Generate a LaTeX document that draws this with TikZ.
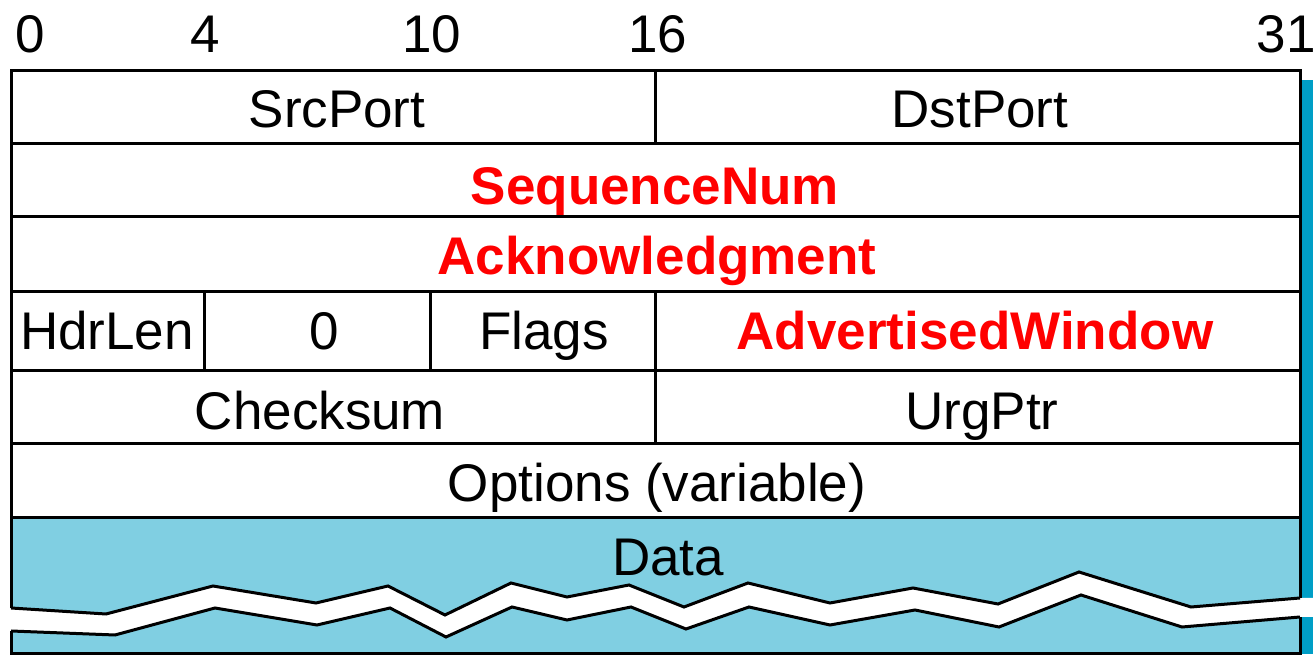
\documentclass[tikz,border=0pt]{standalone}
\usepackage{fontspec}
\setmainfont{Liberation Sans}
\definecolor{datablue}{HTML}{80CFE2}
\definecolor{barblue}{HTML}{009EC6}
\begin{document}
\begin{tikzpicture}[x=0.5pt,y=-0.5pt,
    field/.style={font=\fontsize{26.5}{30}\selectfont,anchor=base,inner sep=0pt},
    hot/.style={field,font=\fontsize{26.5}{30}\selectfont\bfseries,text=red},
    frame/.style={line width=1.5pt,line join=miter}]

    \useasboundingbox (0,0) rectangle (1313,656);

    % data area and side bar
    \fill[datablue] (11,518) rectangle (1300,654);
    \fill[barblue] (1302,80) rectangle (1313,654);

    % white break through the data
    \fill[white] (0,608) -- (11,608) -- (106,614) -- (213,586) -- (316,603) -- (388,586)
        -- (445,615) -- (511,583) -- (567,597) -- (629,585) -- (684,607) -- (748,583)
        -- (830,603) -- (913,588) -- (998,604) -- (1079,572) -- (1191,607) -- (1300,598)
        -- (1313,598) -- (1313,617) -- (1300,617) -- (1182,627) -- (1081,595) -- (999,627)
        -- (915,610) -- (830,625) -- (749,607) -- (686,629) -- (631,607) -- (567,620)
        -- (512,607) -- (446,637) -- (390,608) -- (317,625) -- (215,608) -- (115,635)
        -- (11,631) -- (0,631) -- cycle;
    \draw[frame] (11,608) -- (106,614) -- (213,586) -- (316,603) -- (388,586)
        -- (445,615) -- (511,583) -- (567,597) -- (629,585) -- (684,607) -- (748,583)
        -- (830,603) -- (913,588) -- (998,604) -- (1079,572) -- (1191,607) -- (1300,598);
    \draw[frame] (11,631) -- (115,635) -- (215,608) -- (317,625) -- (390,608)
        -- (446,637) -- (512,607) -- (567,620) -- (631,607) -- (686,629) -- (749,607)
        -- (830,625) -- (915,610) -- (999,627) -- (1081,595) -- (1182,627) -- (1300,617);

    % header frame
    \draw[frame] (11,608) -- (11,71) -- (1300,71) -- (1300,598);
    \draw[frame] (11,631) -- (11,654) -- (1300,654) -- (1300,617);
    \foreach \y in {144,217,292,371,444,518}
        \draw[frame] (11,\y) -- (1300,\y);
    \draw[frame] (655,71) -- (655,144);
    \draw[frame] (204,292) -- (204,371);
    \draw[frame] (430,292) -- (430,371);
    \draw[frame] (655,292) -- (655,444);

    % bit positions
    \node[field] (b0) at (30,53) {0};
    \node[field] (b4) at (205,53) {4};
    \node[field] (b10) at (432,53) {10};
    \node[field] (b16) at (658,53) {16};
    \node[field] (b31) at (1286,53) {31};

    % fields
    \node[field] (src) at (337,128) {SrcPort};
    \node[field] (dst) at (980,128) {DstPort};
    \node[hot] (seq) at (655,205) {SequenceNum};
    \node[hot] (ack) at (657,275) {Acknowledgment};
    \node[field] (hdr) at (107,350) {HdrLen};
    \node[field] (zero) at (324,350) {0};
    \node[field] (flags) at (544,350) {Flags};
    \node[hot] (win) at (975,350) {AdvertisedWindow};
    \node[field] (csum) at (320,430) {Checksum};
    \node[field] (urg) at (982,430) {UrgPtr};
    \node[field] (opt) at (657,502) {Options (variable)};
    \node[field] (data) at (668,576) {Data};

\end{tikzpicture}
\end{document}
